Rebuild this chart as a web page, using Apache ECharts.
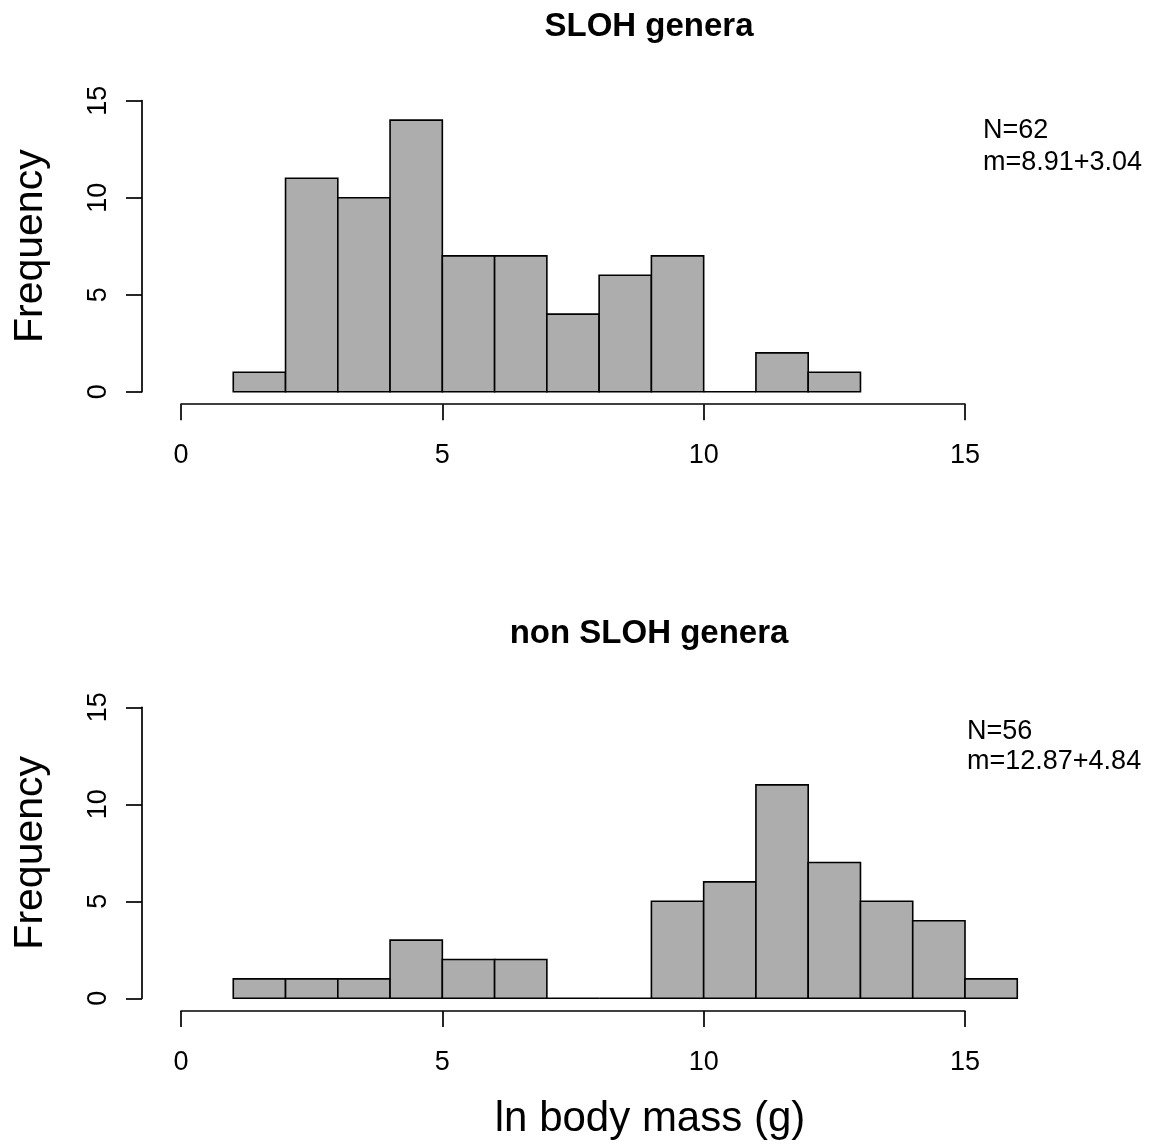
<!DOCTYPE html>
<html>
<head>
<meta charset="utf-8">
<script src="https://cdn.jsdelivr.net/npm/echarts@6/dist/echarts.min.js"></script>
<style>
html,body{margin:0;padding:0;background:#fff;}
#chart{width:1156px;height:1147px;}
</style>
</head>
<body>
<div id="chart"></div>
<script>
// Bin edges (ln body mass, g) and frequencies
var breaksTop = [1,2,3,4,5,6,7,8,9,10,11,12,13];
var countsTop = [1,11,10,14,7,7,4,6,7,0,2,1];
var breaksBottom = [1,2,3,4,5,6,7,8,9,10,11,12,13,14,15,16];
var countsBottom = [1,1,1,3,2,2,0,0,5,6,11,7,5,4,1];
var xTicks = [0,5,10,15];
var yTicks = [0,5,10,15];
var titles = ['SLOH genera','non SLOH genera'];
var notesTop = ['N=62','m=8.91+3.04'];
var notesBottom = ['N=56','m=12.87+4.84'];
var xLabel = 'ln body mass (g)';
var yLabel = 'Frequency';

function bins(breaks, counts){
  var out = [];
  for (var i = 0; i < counts.length; i++) out.push([breaks[i], breaks[i+1], counts[i]]);
  return out;
}

var FONT = '"Liberation Sans", Arial, sans-serif';
var AX = 1.7;

function renderBar(params, api){
  var lo = api.value(0), hi = api.value(1), c = api.value(2);
  var p0 = api.coord([lo, c]);
  var p1 = api.coord([hi, 0]);
  return {
    type: 'rect',
    shape: {x: p0[0], y: p0[1], width: p1[0]-p0[0], height: p1[1]-p0[1]},
    style: {fill: '#adadad', stroke: '#000', lineWidth: 1.6}
  };
}

function xAxisCfg(idx, offset, visible){
  return {
    type: 'value', gridIndex: idx, min: 0, max: 15, interval: 5, position: 'bottom',
    offset: offset, show: visible,
    axisLine: {show: true, onZero: false, lineStyle: {color: '#000', width: AX}},
    axisTick: {show: true, inside: false, length: 16, lineStyle: {color: '#000', width: AX}},
    axisLabel: {show: true, color: '#000', fontFamily: FONT, fontSize: 27, margin: 38,
      formatter: function(v){ return xTicks.indexOf(v) >= 0 ? String(v) : ''; }},
    splitLine: {show: false}
  };
}
function yAxisCfg(idx, visible){
  return {
    type: 'value', gridIndex: idx, min: 0, max: 15, interval: 5, position: 'left',
    show: visible,
    name: visible ? yLabel : '', nameLocation: 'middle', nameRotate: 90, nameGap: 91,
    nameTextStyle: {color: '#000', fontFamily: FONT, fontSize: 41},
    axisLine: {show: true, onZero: false, lineStyle: {color: '#000', width: AX}},
    axisTick: {show: true, inside: false, length: 16, lineStyle: {color: '#000', width: AX}},
    axisLabel: {show: true, color: '#000', fontFamily: FONT, fontSize: 27, margin: 30, rotate: 90,
      formatter: function(v){ return yTicks.indexOf(v) >= 0 ? String(v) : ''; }},
    splitLine: {show: false}
  };
}

function txt(x, y, s, size, bold, align, rot){
  return {
    type: 'text', x: x, y: y, rotation: rot || 0,
    style: {text: s, fill: '#000', font: (bold ? 'bold ' : '') + size + 'px ' + FONT,
      textAlign: align || 'left', textVerticalAlign: 'middle'}
  };
}

var option = {
  backgroundColor: '#fff',
  animation: false,
  grid: [
    // plotting grids (x axis 0..15)
    {left: 181, width: 784, top: 100.7, height: 291},
    {left: 181, width: 784, top: 707.3, height: 291},
    // frame grids carrying the R-style y axes at the plot-region edge
    {left: 142, width: 823, top: 100.7, height: 291},
    {left: 142, width: 823, top: 707.3, height: 291}
  ],
  xAxis: [xAxisCfg(0, 12.5, true), xAxisCfg(1, 12.7, true), xAxisCfg(2, 0, false), xAxisCfg(3, 0, false)],
  yAxis: [yAxisCfg(0, false), yAxisCfg(1, false), yAxisCfg(2, true), yAxisCfg(3, true)],
  series: [
    {type: 'custom', xAxisIndex: 0, yAxisIndex: 0, clip: false, renderItem: renderBar,
      encode: {x: [0,1], y: 2}, data: bins(breaksTop, countsTop)},
    {type: 'custom', xAxisIndex: 1, yAxisIndex: 1, clip: false, renderItem: renderBar,
      encode: {x: [0,1], y: 2}, data: bins(breaksBottom, countsBottom)}
  ],
  graphic: [
    txt(649, 27, titles[0], 33, true, 'center'),
    txt(649, 634, titles[1], 33, true, 'center'),
    txt(983, 130.6, notesTop[0], 27, false, 'left'),
    txt(983, 162.3, notesTop[1], 27, false, 'left'),
    txt(967, 732, notesBottom[0], 27, false, 'left'),
    txt(967, 762, notesBottom[1], 27, false, 'left'),
    txt(650, 1119, xLabel, 42, false, 'center')
  ]
};

var chart = echarts.init(document.getElementById('chart'), null, {renderer: 'canvas'});
chart.setOption(option);
</script>
</body>
</html>
